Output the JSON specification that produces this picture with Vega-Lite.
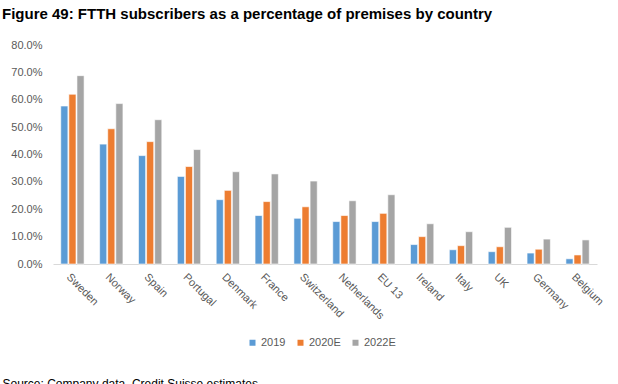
{
  "$schema": "https://vega.github.io/schema/vega-lite/v6.json",
  "width": 544,
  "height": 219,
  "autosize": {"type": "none"},
  "padding": {"left": 53, "top": 45, "right": 21, "bottom": 120},
  "background": "white",
  "title": {
    "text": "Figure 49: FTTH subscribers as a percentage of premises by country",
    "anchor": "start",
    "frame": "group",
    "dx": -51,
    "offset": 17,
    "font": "Liberation Sans",
    "fontSize": 15,
    "fontWeight": "bold",
    "color": "#000000"
  },
  "data": {
    "values": [
      {"country": "Sweden", "series": "2019", "value": 0.577},
      {"country": "Sweden", "series": "2020E", "value": 0.620},
      {"country": "Sweden", "series": "2022E", "value": 0.688},
      {"country": "Norway", "series": "2019", "value": 0.438},
      {"country": "Norway", "series": "2020E", "value": 0.494},
      {"country": "Norway", "series": "2022E", "value": 0.586},
      {"country": "Spain", "series": "2019", "value": 0.396},
      {"country": "Spain", "series": "2020E", "value": 0.447},
      {"country": "Spain", "series": "2022E", "value": 0.527},
      {"country": "Portugal", "series": "2019", "value": 0.320},
      {"country": "Portugal", "series": "2020E", "value": 0.356},
      {"country": "Portugal", "series": "2022E", "value": 0.418},
      {"country": "Denmark", "series": "2019", "value": 0.235},
      {"country": "Denmark", "series": "2020E", "value": 0.269},
      {"country": "Denmark", "series": "2022E", "value": 0.337},
      {"country": "France", "series": "2019", "value": 0.177},
      {"country": "France", "series": "2020E", "value": 0.228},
      {"country": "France", "series": "2022E", "value": 0.329},
      {"country": "Switzerland", "series": "2019", "value": 0.167},
      {"country": "Switzerland", "series": "2020E", "value": 0.209},
      {"country": "Switzerland", "series": "2022E", "value": 0.303},
      {"country": "Netherlands", "series": "2019", "value": 0.155},
      {"country": "Netherlands", "series": "2020E", "value": 0.177},
      {"country": "Netherlands", "series": "2022E", "value": 0.231},
      {"country": "EU 13", "series": "2019", "value": 0.155},
      {"country": "EU 13", "series": "2020E", "value": 0.185},
      {"country": "EU 13", "series": "2022E", "value": 0.253},
      {"country": "Ireland", "series": "2019", "value": 0.071},
      {"country": "Ireland", "series": "2020E", "value": 0.100},
      {"country": "Ireland", "series": "2022E", "value": 0.147},
      {"country": "Italy", "series": "2019", "value": 0.052},
      {"country": "Italy", "series": "2020E", "value": 0.067},
      {"country": "Italy", "series": "2022E", "value": 0.118},
      {"country": "UK", "series": "2019", "value": 0.045},
      {"country": "UK", "series": "2020E", "value": 0.063},
      {"country": "UK", "series": "2022E", "value": 0.134},
      {"country": "Germany", "series": "2019", "value": 0.040},
      {"country": "Germany", "series": "2020E", "value": 0.054},
      {"country": "Germany", "series": "2022E", "value": 0.091},
      {"country": "Belgium", "series": "2019", "value": 0.019},
      {"country": "Belgium", "series": "2020E", "value": 0.033},
      {"country": "Belgium", "series": "2022E", "value": 0.088}
    ]
  },
  "mark": {"type": "bar", "stroke": "#ffffff", "strokeWidth": 0.6},
  "encoding": {
    "x": {
      "field": "country",
      "type": "nominal",
      "sort": null,
      "scale": {"paddingInner": 0.4, "paddingOuter": 0.2},
      "axis": {
        "title": "Source: Company data, Credit Suisse estimates",
        "titleX": -51,
        "titleY": 114,
        "titleAlign": "left",
        "titleBaseline": "top",
        "titleFont": "Liberation Sans",
        "titleFontSize": 12,
        "titleFontWeight": "normal",
        "titleColor": "#000000",
        "labelAngle": 45,
        "labelAlign": "left",
        "labelBaseline": "top",
        "labelPadding": 7,
        "labelFont": "Liberation Sans",
        "labelFontSize": 11,
        "labelColor": "#595959",
        "ticks": false,
        "domainColor": "#D9D9D9",
        "domainWidth": 1,
        "grid": false
      }
    },
    "xOffset": {
      "field": "series",
      "type": "nominal",
      "scale": {"paddingInner": 0.12}
    },
    "y": {
      "field": "value",
      "type": "quantitative",
      "scale": {"domain": [0, 0.8], "nice": false},
      "axis": {
        "title": null,
        "format": ".1%",
        "values": [0, 0.1, 0.2, 0.3, 0.4, 0.5, 0.6, 0.7, 0.8],
        "labelFont": "Liberation Sans",
        "labelFontSize": 11,
        "labelColor": "#595959",
        "labelPadding": 11,
        "ticks": false,
        "domain": false,
        "grid": false
      }
    },
    "color": {
      "field": "series",
      "type": "nominal",
      "scale": {"domain": ["2019", "2020E", "2022E"], "range": ["#5B9BD5", "#ED7D31", "#A5A5A5"]},
      "legend": {
        "title": null,
        "orient": "none",
        "direction": "horizontal",
        "legendX": 194,
        "legendY": 292,
        "symbolType": "square",
        "symbolSize": 36,
        "symbolStrokeWidth": 0,
        "labelFont": "Liberation Sans",
        "labelFontSize": 11,
        "labelColor": "#595959",
        "labelOffset": 3,
        "columnPadding": 9
      }
    }
  },
  "config": {"view": {"stroke": null}}
}
